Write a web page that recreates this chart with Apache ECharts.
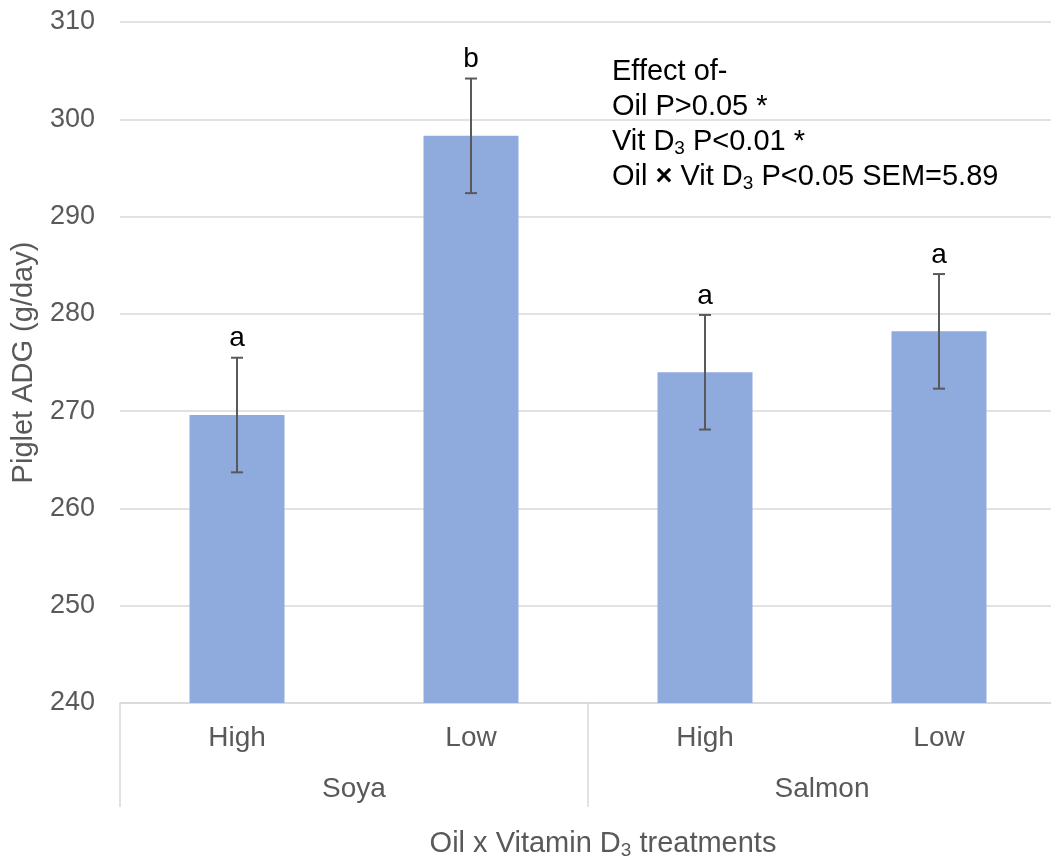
<!DOCTYPE html>
<html>
<head>
<meta charset="utf-8">
<script src="https://cdn.jsdelivr.net/npm/echarts@6/dist/echarts.min.js"></script>
<style>
html,body{margin:0;padding:0;background:#fff;}
#chart{width:1051px;height:861px;}
</style>
</head>
<body>
<div id="chart"></div>
<script>
const levels = ['High', 'Low', 'High', 'Low'];
const oils = ['Soya', 'Salmon'];
const adg = [269.6, 298.3, 274.0, 278.2];
const sem = [5.89, 5.89, 5.89, 5.89];
const letters = ['a', 'b', 'a', 'a'];
const yTicks = [240, 250, 260, 270, 280, 290, 300, 310];

const FONT = '"Liberation Sans", Arial, sans-serif';
const GREY = '#595959';
const FS = 28;

const chart = echarts.init(document.getElementById('chart'));
const errData = adg.map((v, i) => [i, v - sem[i], v + sem[i]]);

chart.setOption({
  animation: false,
  textStyle: { fontFamily: FONT },
  grid: { left: 120, top: 22, width: 936, height: 681, containLabel: false, outerBoundsMode: 'none' },
  xAxis: [
    {
      type: 'category',
      data: levels,
      axisLine: { lineStyle: { color: '#d9d9d9', width: 1.5 } },
      axisTick: { show: false },
      axisLabel: { color: GREY, fontSize: FS, margin: 21, fontFamily: FONT },
      name: '{a|Oil x Vitamin D}{s|3}{a| treatments}',
      nameLocation: 'middle',
      nameGap: 124,
      nameTextStyle: {
        padding: [0, 0, 0, 30],
        rich: {
          a: { fontSize: 29, color: GREY, fontFamily: FONT },
          s: { fontSize: 19, color: GREY, fontFamily: FONT, padding: [14, 0, 0, 0] }
        }
      }
    },
    {
      type: 'category',
      data: oils,
      position: 'bottom',
      axisLine: { show: false },
      axisTick: { show: true, length: 104, lineStyle: { color: '#d9d9d9', width: 1.5 } },
      axisLabel: { color: GREY, fontSize: FS, margin: 72, fontFamily: FONT },
      splitLine: { show: false }
    }
  ],
  yAxis: {
    type: 'value',
    min: yTicks[0],
    max: yTicks[yTicks.length - 1],
    interval: 10,
    axisLine: { show: false },
    axisTick: { show: false },
    splitLine: { lineStyle: { color: '#d9d9d9', width: 1.5 } },
    axisLabel: { color: GREY, fontSize: 27, margin: 25, fontFamily: FONT },
    name: 'Piglet ADG (g/day)',
    nameLocation: 'middle',
    nameGap: 82,
    nameTextStyle: { color: GREY, fontSize: 29, fontFamily: FONT, padding: [0, 0, 0, 0] }
  },
  series: [
    {
      type: 'bar',
      data: adg,
      barWidth: 95,
      itemStyle: { color: '#8FAADC' },
      xAxisIndex: 0
    },
    {
      type: 'custom',
      xAxisIndex: 0,
      data: errData,
      z: 5,
      renderItem: function (params, api) {
        const x = api.value(0);
        const lo = api.coord([x, api.value(1)]);
        const hi = api.coord([x, api.value(2)]);
        const cap = 6;
        const style = { stroke: '#595959', lineWidth: 2 };
        return {
          type: 'group',
          children: [
            { type: 'line', shape: { x1: hi[0], y1: hi[1], x2: lo[0], y2: lo[1] }, style: style },
            { type: 'line', shape: { x1: hi[0] - cap, y1: hi[1], x2: hi[0] + cap, y2: hi[1] }, style: style },
            { type: 'line', shape: { x1: lo[0] - cap, y1: lo[1], x2: lo[0] + cap, y2: lo[1] }, style: style },
            { type: 'text', x: hi[0], y: hi[1] - 5,
              style: { text: letters[params.dataIndex], fill: '#000', font: FS + 'px ' + FONT, align: 'center', verticalAlign: 'bottom' } }
          ]
        };
      }
    }
  ],
  graphic: [
    {
      type: 'text',
      left: 612,
      top: 57,
      style: {
        text: '{a|Effect of-}\n{a|Oil P>0.05 *}\n{a|Vit D}{s|3}{a| P<0.01 *}\n{a|Oil }{b|×}{a| Vit D}{s|3}{a| P<0.05 SEM=5.89}',
        rich: {
          a: { fontSize: 29, fill: '#000', fontFamily: FONT, lineHeight: 35 },
          b: { fontSize: 29, fill: '#000', fontFamily: FONT, fontWeight: 'bold', lineHeight: 35 },
          s: { fontSize: 19, fill: '#000', fontFamily: FONT, lineHeight: 35, padding: [14, 0, 0, 0] }
        }
      }
    }
  ]
});
</script>
</body>
</html>
